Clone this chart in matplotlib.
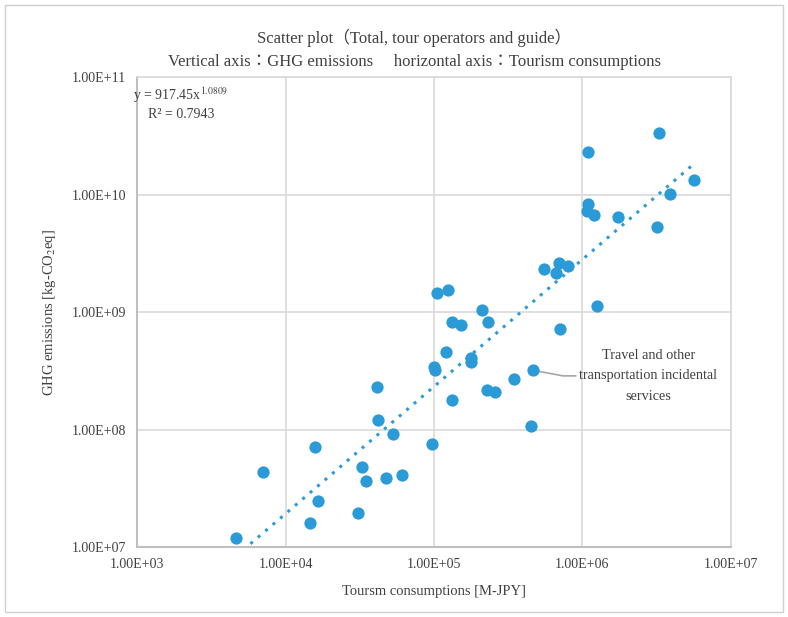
import numpy as np
import matplotlib
matplotlib.use("Agg")
import matplotlib.pyplot as plt
from matplotlib.patches import Rectangle

plt.rcParams["font.family"] = ["Liberation Serif", "Noto Sans CJK JP"]
plt.rcParams["mathtext.fontset"] = "stix"

# tourism consumption [M-JPY] and GHG emissions [kg-CO2eq]
consumption = [4.6e3, 7.0e3, 1.57e4, 1.65e4, 1.46e4, 3.09e4, 3.29e4, 3.47e4,
               4.73e4, 6.07e4, 5.32e4, 4.2e4, 4.11e4, 9.66e4, 1.0e5, 1.02e5,
               1.21e5, 1.32e5, 2.1e5, 1.33e5, 1.52e5, 2.31e5, 1.25e6, 7.1e5,
               1.77e5, 1.77e5, 2.28e5, 2.58e5, 3.45e5, 4.68e5, 4.5e5, 1.04e5,
               1.24e5, 5.52e5, 6.6e5, 7.0e5, 8.0e5, 1.1e6, 3.31e6, 1.1e6,
               1.07e6, 1.19e6, 1.75e6, 3.18e6, 3.89e6, 5.65e6]
emissions = [1.2e7, 4.35e7, 7.16e7, 2.48e7, 1.62e7, 1.96e7, 4.79e7, 3.66e7,
             3.91e7, 4.12e7, 9.25e7, 1.22e8, 2.32e8, 7.55e7, 3.43e8, 3.22e8,
             4.6e8, 1.78e8, 1.04e9, 8.19e8, 7.72e8, 8.28e8, 1.13e9, 7.18e8,
             4.09e8, 3.74e8, 2.18e8, 2.1e8, 2.7e8, 3.2e8, 1.07e8, 1.46e9,
             1.53e9, 2.31e9, 2.16e9, 2.6e9, 2.47e9, 2.29e10, 3.36e10, 8.36e9,
             7.24e9, 6.7e9, 6.47e9, 5.26e9, 1.02e10, 1.32e10]

# power trendline y = a * x^b
fit_a = 917.45
fit_b = 1.0809
r2 = 0.7943

# labelled point: Travel and other transportation incidental services
label_x, label_y = 4.68e5, 3.2e8

x_ticks = [1e3, 1e4, 1e5, 1e6, 1e7]
y_ticks = [1e7, 1e8, 1e9, 1e10, 1e11]

blue = "#2B9BD8"
grid_c = "#D9D9D9"
text_c = "#404040"

fig = plt.figure(figsize=(7.88, 6.17), dpi=100)
fig.patches.append(Rectangle((0.006, 0.008), 0.988, 0.984, transform=fig.transFigure,
                             fill=False, edgecolor="#D0D0D0", linewidth=1))
ax = fig.add_axes([0.1742, 0.1130, 0.7531, 0.7622])

ax.scatter(consumption, emissions, s=78, color=blue, zorder=3, linewidths=0)

xs = np.logspace(np.log10(min(consumption)), np.log10(max(consumption)), 200)
ax.plot(xs, fit_a * xs ** fit_b, color=blue, linestyle=(0, (1, 2.2)), linewidth=2.2,
        zorder=2)

ax.set_xscale("log")
ax.set_yscale("log")
ax.set_xlim(1e3, 1e7)
ax.set_ylim(1e7, 1e11)
ax.set_xticks(x_ticks)
ax.set_yticks(y_ticks)
ax.set_xticklabels(["%.2E" % v for v in x_ticks])
ax.set_yticklabels(["%.2E" % v for v in y_ticks])
ax.minorticks_off()
ax.tick_params(length=0, labelsize=10, colors=text_c, pad=8)
ax.grid(True, color=grid_c, linewidth=1.2)
ax.set_axisbelow(True)
for side in ["top", "right"]:
    ax.spines[side].set_color(grid_c)
    ax.spines[side].set_linewidth(1.2)
for side in ["left", "bottom"]:
    ax.spines[side].set_color("#BFBFBF")
    ax.spines[side].set_linewidth(1.5)

ax.set_xlabel("Toursm consumptions [M-JPY]", fontsize=10.5, color=text_c, labelpad=10)
ax.set_ylabel("GHG emissions [kg-CO$_2$eq]", fontsize=10.5, color=text_c, labelpad=10)

fig.text(414 / 788, 1 - 38 / 617, "Scatter plot（Total, tour operators and guide）",
         ha="center", va="center", fontsize=12, color=text_c)
fig.text(414 / 788, 1 - 62 / 617,
         "Vertical axis：GHG emissions　 horizontal axis：Tourism consumptions",
         ha="center", va="center", fontsize=12, color=text_c)

# leader line and label
ax.plot([label_x, 7.4e5, 9.0e5], [label_y, 2.87e8, 2.87e8], color="#A6A6A6",
        linewidth=1.2, zorder=2.5)
ax.text(2.78e6, 2.87e8, "Travel and other\ntransportation incidental\nservices",
        ha="center", va="center", fontsize=10.3, color=text_c, linespacing=1.75)

fig.text(133 / 788, 1 - 95 / 617, "y = 917.45x$^{1.0809}$", ha="left", va="center",
         fontsize=10, color=text_c)
fig.text(148 / 788, 1 - 114 / 617, "R² = %.4f" % r2, ha="left", va="center",
         fontsize=10, color=text_c)

fig.savefig("out.png", dpi=100)
